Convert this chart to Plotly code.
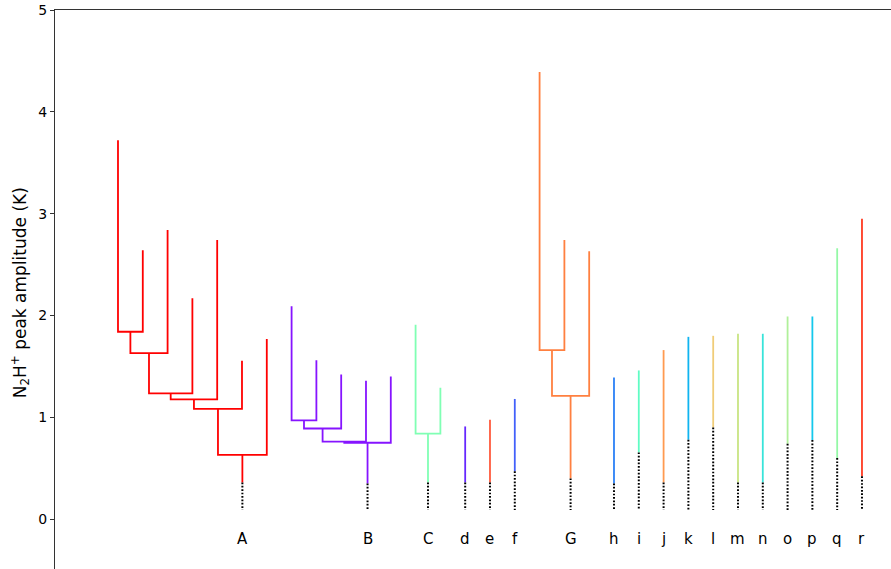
import plotly.graph_objects as go

# ---- data ----
tree_names = ["A", "B", "C", "G"]
tree_start = [0, 7, 12, 17]                      # leaf index of first leaf
tree_leaf_tops = [
    [3.72, 2.64, 2.84, 2.17, 2.74, 1.555, 1.77],
    [2.09, 1.56, 1.42, 1.36, 1.40],
    [1.91, 1.29],
    [4.39, 2.74, 2.63],
]
tree_merges = [
    [1.84, 1.63, 1.235, 1.176, 1.083, 0.63],
    [0.97, 0.89, 0.76, 0.75],
    [0.84],
    [1.66, 1.21],
]
tree_base = [0.36, 0.35, 0.36, 0.40]
tree_colors = ["#ff0000", "#8614ff", "#80ffb4", "#ff8040"]

single_names = ["d", "e", "f", "h", "i", "j", "k", "l", "m", "n", "o", "p", "q", "r"]
single_pos = [14, 15, 16, 20, 21, 22, 23, 24, 25, 26, 27, 28, 29, 30]
single_tops = [0.91, 0.975, 1.18, 1.39, 1.46, 1.66, 1.79, 1.80, 1.82, 1.82, 1.99, 1.99, 2.66, 2.95]
single_base = [0.36, 0.36, 0.47, 0.35, 0.655, 0.36, 0.78, 0.90, 0.36, 0.36, 0.74, 0.776, 0.60, 0.42]
single_colors = ["#6628fe", "#ff5a3c", "#4260fa", "#2a80f6", "#60fcc4", "#ff9a50",
                 "#10b4f0", "#f0cc78", "#c8e482", "#38e4da", "#b0f09a", "#14c8ec",
                 "#94f8a6", "#ff3a20"]
dot_end = 0.09
label_y = -0.2

fig = go.Figure()
dot_x, dot_y = [], []
labels = []

for name, start, tops, merges, base, col in zip(tree_names, tree_start, tree_leaf_tops,
                                                tree_merges, tree_base, tree_colors):
    xs, ys = [], []
    node_x, node_h = start, tops[0]
    for k, m in enumerate(merges):
        rx, rt = start + k + 1, tops[k + 1]
        xs += [node_x, node_x, rx, rx, None]
        ys += [node_h, m, m, rt, None]
        node_x, node_h = (node_x + rx) / 2, m
    xs += [node_x, node_x, None]
    ys += [node_h, base, None]
    dot_x += [node_x, node_x, None]
    dot_y += [base, dot_end, None]
    labels.append((name, node_x))
    fig.add_trace(go.Scatter(x=xs, y=ys, mode="lines", line=dict(color=col, width=1.8),
                             hoverinfo="skip", showlegend=False))

for name, pos, top, base, col in zip(single_names, single_pos, single_tops, single_base, single_colors):
    fig.add_trace(go.Scatter(x=[pos, pos], y=[base, top], mode="lines",
                             line=dict(color=col, width=1.8), hoverinfo="skip", showlegend=False))
    dot_x += [pos, pos, None]
    dot_y += [base, dot_end, None]
    labels.append((name, pos))

fig.add_trace(go.Scatter(x=dot_x, y=dot_y, mode="lines",
                         line=dict(color="black", width=2, dash="1.7px,1.7px"),
                         hoverinfo="skip", showlegend=False))

for name, x in labels:
    fig.add_annotation(x=x, y=label_y, text=name, showarrow=False,
                       font=dict(family="DejaVu Sans", size=15, color="black"))

fig.add_annotation(xref="paper", yref="paper", x=-0.0419, y=0.495, textangle=-90,
                   text="N<sub>2</sub>H<sup>+</sup> peak amplitude (K)", showarrow=False,
                   xanchor="center", yanchor="middle",
                   font=dict(family="DejaVu Sans", size=17, color="black"))

fig.update_layout(
    width=891, height=569,
    margin=dict(l=55, r=0, t=10, b=0),
    plot_bgcolor="white", paper_bgcolor="white",
    xaxis=dict(range=[-2.54, 31.17], side="top", showline=True, linecolor="#333",
               linewidth=1, showticklabels=False, ticks="", showgrid=False, zeroline=False),
    yaxis=dict(range=[-0.49, 5], showline=True, linecolor="#333", linewidth=1,
               tickvals=[0, 1, 2, 3, 4, 5], ticks="outside", ticklen=4, tickcolor="#333",
               showgrid=False, zeroline=False, ticklabeloverflow="allow",
               tickfont=dict(family="DejaVu Sans", size=14, color="black")),
)

fig.write_html("out.html", config={"displayModeBar": False},
               post_script="document.body.style.margin='0px';")
